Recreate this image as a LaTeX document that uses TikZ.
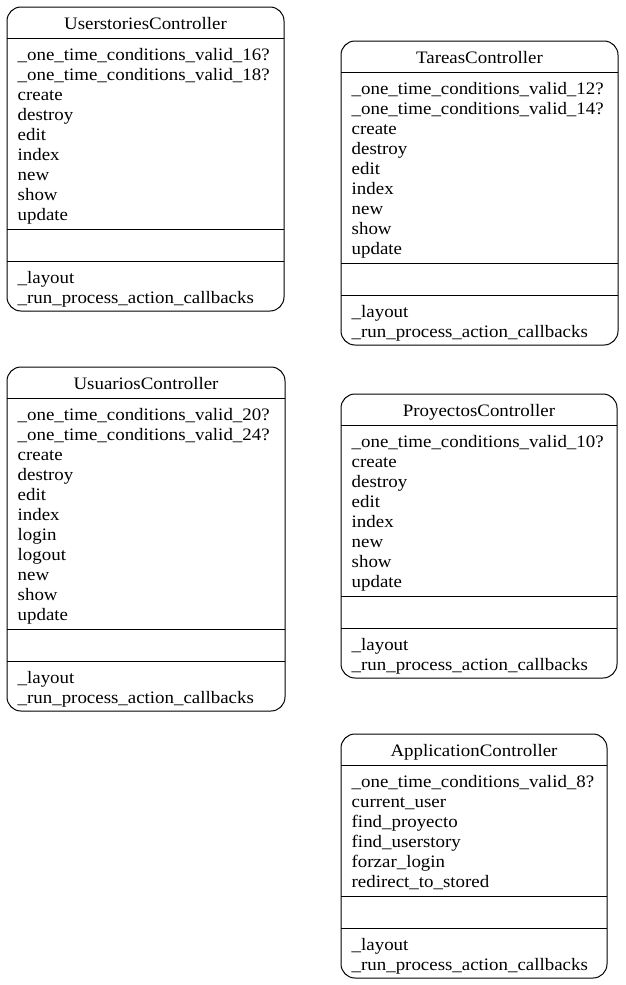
\documentclass[tikz,border=0pt]{standalone}
\usepackage{fontspec}
\setmainfont{Liberation Serif}[FakeStretch=1.08]
\tikzset{
  boxline/.style={line width=1pt, draw=black},
  ctrlshape/.style={boxline, rounded corners=14pt, inner sep=0pt, outer sep=0pt, anchor=north west},
  titletext/.style={anchor=base, inner sep=0pt, font=\fontsize{17.5}{20}\selectfont},
  listtext/.style={anchor=base west, inner sep=0pt, font=\fontsize{17.5}{20}\selectfont},
}
% #1 name, #2 left, #3 top, #4 right, #5 title, #6 public methods, #7 count, #8 private methods
\newcommand\ctrlbox[8]{%
  \pgfmathsetmacro\cbya{#3+31}%
  \pgfmathsetmacro\cbyb{\cbya+#7*20+11}%
  \pgfmathsetmacro\cbyc{\cbyb+32}%
  \pgfmathsetmacro\cbyd{\cbyc+50}%
  \pgfmathsetmacro\cbxm{(#2+#4)/2}%
  \pgfmathsetmacro\cbw{#4-#2}%
  \pgfmathsetmacro\cbh{\cbyd-#3}%
  \node[ctrlshape, minimum width=\cbw pt, minimum height=\cbh pt] (#1) at (#2,#3) {};
  \node[titletext] (#1-title) at (\cbxm,#3+22) {#5};
  \draw[boxline] (#2,\cbya) -- (#4,\cbya);
  \draw[boxline] (#2,\cbyb) -- (#4,\cbyb);
  \draw[boxline] (#2,\cbyc) -- (#4,\cbyc);
  \foreach \t [count=\i from 0] in {#6} {
    \node[listtext] (#1-m\i) at (#2+10.5,\cbya+22.5+20*\i) {\t};
  }
  \foreach \t [count=\i from 0] in {#8} {
    \node[listtext] (#1-p\i) at (#2+10.5,\cbyc+22.5+20*\i) {\t};
  }
}
\begin{document}
\begin{tikzpicture}[x=1pt,y=-1pt]
\useasboundingbox[fill=white] (0,0) rectangle (625,985);
\ctrlbox{us}{7}{7}{284}{UserstoriesController}{\_one\_time\_conditions\_valid\_16?,\_one\_time\_conditions\_valid\_18?,create,destroy,edit,index,new,show,update}{9}{\_layout,\_run\_process\_action\_callbacks}
\ctrlbox{ta}{341}{41}{618}{TareasController}{\_one\_time\_conditions\_valid\_12?,\_one\_time\_conditions\_valid\_14?,create,destroy,edit,index,new,show,update}{9}{\_layout,\_run\_process\_action\_callbacks}
\ctrlbox{uc}{7}{367}{285}{UsuariosController}{\_one\_time\_conditions\_valid\_20?,\_one\_time\_conditions\_valid\_24?,create,destroy,edit,index,login,logout,new,show,update}{11}{\_layout,\_run\_process\_action\_callbacks}
\ctrlbox{pc}{341}{394}{617}{ProyectosController}{\_one\_time\_conditions\_valid\_10?,create,destroy,edit,index,new,show,update}{8}{\_layout,\_run\_process\_action\_callbacks}
\ctrlbox{ac}{341}{734}{607}{ApplicationController}{\_one\_time\_conditions\_valid\_8?,current\_user,find\_proyecto,find\_userstory,forzar\_login,redirect\_to\_stored}{6}{\_layout,\_run\_process\_action\_callbacks}
\end{tikzpicture}
\end{document}
